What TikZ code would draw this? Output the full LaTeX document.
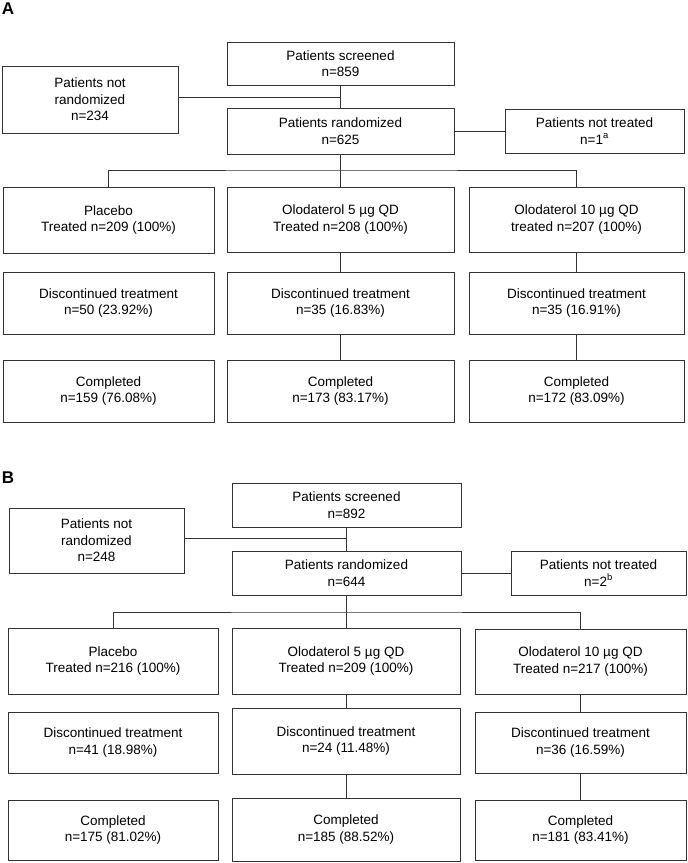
\documentclass[tikz,border=0pt]{standalone}
\usepackage{fontspec}
\setmainfont{Liberation Sans}
\newcommand\boxat[6]{\node[box, minimum width={(#4-#2)*1pt}, minimum height={(#5-#3)*1pt}] (#1) at ({(#2+#4)/2},{(#3+#5)/2}) {#6};}
\begin{document}
\begin{tikzpicture}[x=1pt,y=-1pt,
  box/.style={draw=black!80, line width=0.8pt, align=center, inner sep=0pt, font=\fontsize{13.5}{16.5}\selectfont},
  ln/.style={draw=black!80, line width=0.8pt},
  lab/.style={font=\bfseries\fontsize{17}{17}\selectfont, inner sep=0pt}]
\useasboundingbox (0,0) rectangle (688,863);
% ---------- Panel A ----------
\node[lab] (labA) at (8,9) {A};
\boxat{scrA}{227}{42}{454}{85}{Patients screened\\n=859}
\boxat{nrA}{2}{66}{178}{133}{Patients not\\randomized\\n=234}
\boxat{rndA}{227}{108}{454}{154}{Patients randomized\\n=625}
\boxat{ntA}{505}{109}{684}{153}{Patients not treated\\n=1\textsuperscript{a}}
\boxat{p1A}{3}{187}{214}{253}{Placebo\\Treated n=209 (100\%)}
\boxat{f1A}{227}{187}{454}{252}{Olodaterol 5 µg QD\\Treated n=208 (100\%)}
\boxat{t1A}{469}{187}{684}{252}{Olodaterol 10 µg QD\\treated n=207 (100\%)}
\boxat{p2A}{3}{272}{214}{334}{Discontinued treatment\\n=50 (23.92\%)}
\boxat{f2A}{227}{272}{454}{334}{Discontinued treatment\\n=35 (16.83\%)}
\boxat{t2A}{469}{272}{684}{334}{Discontinued treatment\\n=35 (16.91\%)}
\boxat{p3A}{3}{360}{214}{422}{Completed\\n=159 (76.08\%)}
\boxat{f3A}{227}{360}{454}{422}{Completed\\n=173 (83.17\%)}
\boxat{t3A}{469}{360}{684}{422}{Completed\\n=172 (83.09\%)}
\coordinate (jA) at (340.5,97);
\coordinate (sA) at (340.5,170);
\draw[ln] (scrA) -- (rndA);
\draw[ln] (nrA.east |- jA) -- (jA);
\draw[ln] (rndA) -- (ntA);
\draw[ln] (rndA) -- (sA);
\draw[ln] (p1A.north) |- (sA) -| (t1A.north);
\draw[ln] (sA) -- (f1A);
\draw[ln] (f1A) -- (f2A);
\draw[ln] (f2A) -- (f3A);
\draw[ln] (t1A) -- (t2A);
\draw[ln] (t2A) -- (t3A);
% ---------- Panel B ----------
\node[lab] (labB) at (8,478) {B};
\boxat{scrB}{232}{483}{461}{527}{Patients screened\\n=892}
\boxat{nrB}{9}{508}{184}{573}{Patients not\\randomized\\n=248}
\boxat{rndB}{232}{551}{461}{595}{Patients randomized\\n=644}
\boxat{ntB}{511}{551}{686}{595}{Patients not treated\\n=2\textsuperscript{b}}
\boxat{p1B}{8}{628}{218}{694}{Placebo\\Treated n=216 (100\%)}
\boxat{f1B}{232}{628}{460}{694}{Olodaterol 5 µg QD\\Treated n=209 (100\%)}
\boxat{t1B}{475}{629}{686}{694}{Olodaterol 10 µg QD\\Treated n=217 (100\%)}
\boxat{p2B}{8}{712}{218}{773}{Discontinued treatment\\n=41 (18.98\%)}
\boxat{f2B}{232}{708}{460}{774}{Discontinued treatment\\n=24 (11.48\%)}
\boxat{t2B}{475}{712}{686}{773}{Discontinued treatment\\n=36 (16.59\%)}
\boxat{p3B}{8}{800}{218}{860}{Completed\\n=175 (81.02\%)}
\boxat{f3B}{232}{798}{460}{861}{Completed\\n=185 (88.52\%)}
\boxat{t3B}{475}{800}{686}{860}{Completed\\n=181 (83.41\%)}
\coordinate (jB) at (346.5,538);
\coordinate (sB) at (346.5,612);
\draw[ln] (scrB) -- (rndB);
\draw[ln] (nrB.east |- jB) -- (jB);
\draw[ln] (rndB) -- (ntB);
\draw[ln] (rndB) -- (sB);
\draw[ln] (p1B.north) |- (sB) -| (t1B.north);
\draw[ln] (sB) -- (f1B.north -| sB);
\draw[ln] (f1B.south -| sB) -- (f2B.north -| sB);
\draw[ln] (f2B.south -| sB) -- (f3B.north -| sB);
\draw[ln] (t1B) -- (t2B);
\draw[ln] (t2B) -- (t3B);
\end{tikzpicture}
\end{document}
